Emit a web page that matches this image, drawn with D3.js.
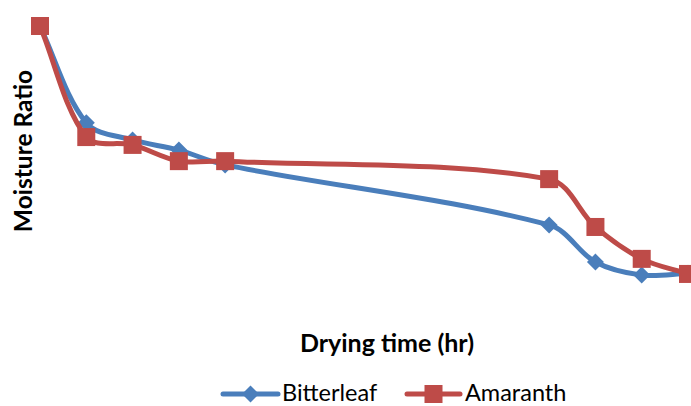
<!DOCTYPE html>
<html>
<head>
<meta charset="utf-8">
<script src="https://cdn.jsdelivr.net/npm/d3@7"></script>
<style>
html,body{margin:0;padding:0;background:#fff;}
svg{display:block;}
</style>
</head>
<body>
<svg id="chart" width="691" height="406"></svg>
<script>
const hours = [0, 1, 2, 3, 4, 11, 12, 13, 14];
const bitterleaf = [1.0, 0.666, 0.607, 0.572, 0.521, 0.314, 0.186, 0.141, 0.147];
const amaranth   = [1.0, 0.617, 0.590, 0.534, 0.534, 0.472, 0.307, 0.197, 0.145];
const seriesNames = ["Bitterleaf", "Amaranth"];
const seriesColors = ["#4A7EBB", "#BE4B48"];
const xTitle = "Drying time (hr)";
const yTitle = "Moisture Ratio";

// Excel-like smoothing: Bezier with length-weighted tangents
function curveExcel(context) {
  let pts = [];
  return {
    areaStart() {}, areaEnd() {},
    lineStart() { pts = []; },
    point(x, y) { pts.push([+x, +y]); },
    lineEnd() {
      const n = pts.length;
      if (!n) return;
      context.moveTo(pts[0][0], pts[0][1]);
      if (n === 1) return;
      const dist = (a, b) => Math.hypot(b[0] - a[0], b[1] - a[1]);
      const k = 1 / 3;
      const outC = [], inC = [];
      for (let i = 0; i < n; i++) {
        const p = pts[i];
        const prev = pts[Math.max(0, i - 1)];
        const next = pts[Math.min(n - 1, i + 1)];
        const tx = next[0] - prev[0], ty = next[1] - prev[1];
        const dp = dist(prev, p), dn = dist(p, next);
        const s = dp + dn || 1;
        outC[i] = [p[0] + tx * k * dn / s, p[1] + ty * k * dn / s];
        inC[i] = [p[0] - tx * k * dp / s, p[1] - ty * k * dp / s];
      }
      for (let i = 0; i < n - 1; i++) {
        context.bezierCurveTo(outC[i][0], outC[i][1], inC[i + 1][0], inC[i + 1][1], pts[i + 1][0], pts[i + 1][1]);
      }
    }
  };
}

const svg = d3.select("#chart");
const x = d3.scaleLinear().domain([0, 14]).range([40, 688]);
const y = d3.scaleLinear().domain([0, 1]).range([316, 26]);

const line = d3.line().x(d => x(d[0])).y(d => y(d[1])).curve(curveExcel);

const series = [
  {name: seriesNames[0], color: seriesColors[0], values: bitterleaf, marker: "diamond"},
  {name: seriesNames[1], color: seriesColors[1], values: amaranth, marker: "square"}
];

function drawMarker(g, type, cx, cy, color) {
  if (type === "diamond") {
    const r = 8.5;
    g.append("path")
      .attr("d", `M${cx},${cy - r}L${cx + r},${cy}L${cx},${cy + r}L${cx - r},${cy}Z`)
      .attr("fill", color);
  } else {
    const s = 18;
    g.append("rect")
      .attr("x", cx - s / 2).attr("y", cy - s / 2)
      .attr("width", s).attr("height", s)
      .attr("fill", color);
  }
}

series.forEach(s => {
  const pts = hours.map((h, i) => [h, s.values[i]]);
  const g = svg.append("g");
  g.append("path")
    .attr("d", line(pts))
    .attr("fill", "none")
    .attr("stroke", s.color)
    .attr("stroke-width", 5)
    .attr("stroke-linejoin", "round")
    .attr("stroke-linecap", "round");
  pts.forEach(p => drawMarker(g, s.marker, x(p[0]), y(p[1]), s.color));
});

// axis titles
svg.append("text")
  .attr("x", 387).attr("y", 352)
  .attr("text-anchor", "middle")
  .attr("font-family", "Lato, 'Open Sans', sans-serif")
  .attr("font-weight", "bold")
  .attr("font-size", 25)
  .attr("fill", "#000")
  .text(xTitle);

svg.append("text")
  .attr("transform", "translate(32,151) rotate(-90)")
  .attr("text-anchor", "middle")
  .attr("font-family", "Lato, 'Open Sans', sans-serif")
  .attr("font-weight", "bold")
  .attr("font-size", 24.5)
  .attr("fill", "#000")
  .text(yTitle);

// legend
const legendItems = [
  {x0: 223, x1: 278, tx: 282},
  {x0: 407, x1: 460, tx: 465}
];
series.forEach((s, i) => {
  const L = legendItems[i];
  const ly = 394;
  const g = svg.append("g");
  g.append("line")
    .attr("x1", L.x0).attr("x2", L.x1).attr("y1", ly).attr("y2", ly)
    .attr("stroke", s.color).attr("stroke-width", 5).attr("stroke-linecap", "round");
  drawMarker(g, s.marker, (L.x0 + L.x1) / 2, ly, s.color);
  g.append("text")
    .attr("x", L.tx).attr("y", 401)
    .attr("font-family", "Lato, 'Open Sans', sans-serif")
    .attr("font-size", 23.5)
    .attr("fill", "#000")
    .text(s.name);
});
</script>
</body>
</html>
